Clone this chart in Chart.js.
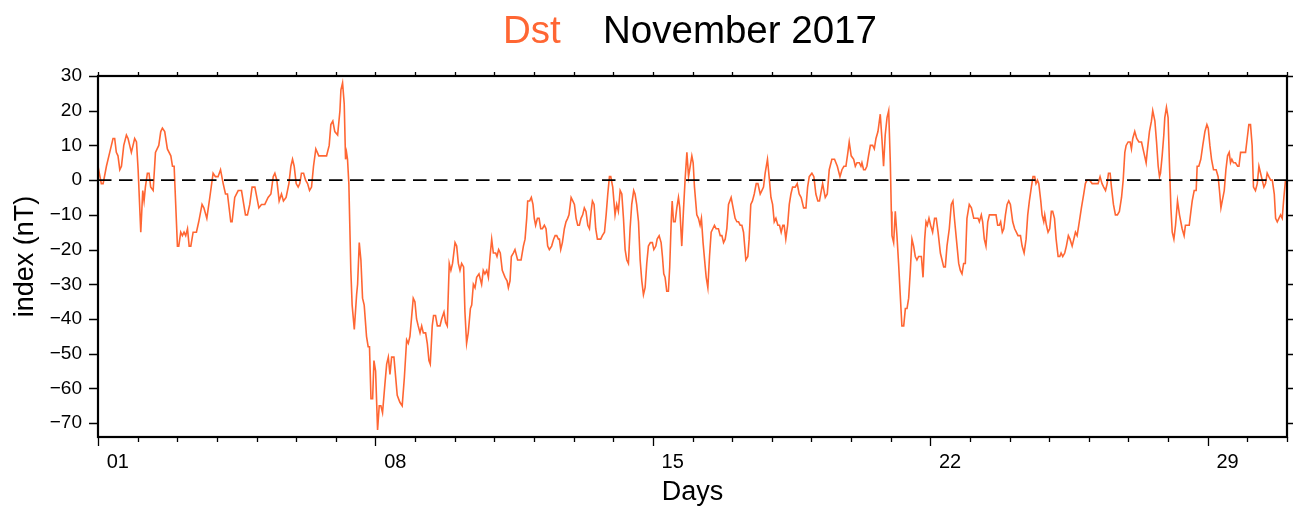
<!DOCTYPE html>
<html>
<head>
<meta charset="utf-8">
<script src="https://cdn.jsdelivr.net/npm/chart.js@4.4.1/dist/chart.umd.min.js"></script>
<style>
  html, body { margin: 0; padding: 0; background: #fff; }
  #wrap { position: relative; width: 1295px; height: 512px; }
  #c { position: absolute; left: 0; top: 0; }
  .ttl { position: absolute; top: 11px; font-family: "Liberation Sans", Arial, Helvetica, sans-serif; font-size: 38.5px; line-height: 1; white-space: nowrap; }
  #t1 { left: 503px; color: #ff6633; }
  #t2 { left: 603px; color: #000; }
</style>
</head>
<body>
<div id="wrap">
  <canvas id="c" width="1295" height="512"></canvas>
  <div class="ttl" id="t1">Dst</div>
  <div class="ttl" id="t2">November 2017</div>
</div>
<script>
// Hours since 2017-11-01 00:00 UT
const hours = [
  0, 2.0, 3.1, 5.1, 7.1, 9.1, 10.1, 11.1, 12.1, 13.2,
  14.2, 15.6, 17.2, 18.2, 20.2, 22.2, 23.3, 24.3, 25.9, 27.1,
  27.9, 28.7, 29.9, 30.9, 31.9, 33.4, 34.8, 36.8, 38.0, 39.0,
  40.4, 42.0, 44.1, 45.1, 46.1, 48.1, 48.9, 50.1, 51.1, 52.1,
  53.1, 54.2, 55.2, 56.2, 57.6, 59.6, 61.0, 63.0, 64.1, 65.9,
  67.7, 69.7, 71.1, 72.7, 74.2, 75.8, 77.2, 78.4, 80.4, 81.2,
  82.8, 84.9, 86.9, 89.3, 90.5, 91.9, 93.3, 95.0,
  97.4, 99.0, 101.0, 103.0, 104.7, 106.1, 107.1, 108.3, 109.7, 111.1,
  112.3, 113.9, 115.6, 116.8, 117.8, 118.8, 120.0, 121.2, 122.2, 123.2,
  124.5, 125.7, 126.9, 128.1, 129.3, 130.5, 131.9, 133.7, 135.8, 138.4,
  140.0, 141.0, 142.2, 143.4, 145.1, 146.5, 147.1, 148.1, 149.1, 149.9,
  150.5, 151.1, 151.9, 153.1, 153.9, 155.2, 156.6, 157.2, 158.2, 159.2,
  160.2, 161.2, 162.6, 163.6, 164.4, 165.3, 166.3, 167.1, 168.1, 169.3,
  170.3, 171.3, 172.3, 173.7, 174.8, 175.8, 176.8, 177.8, 179.2, 181.2,
  182.8, 184.2, 185.5,
  186.9, 187.9, 188.9, 190.9, 191.9, 192.9, 193.9, 195.0, 196.0, 197.0,
  198.4, 199.4, 200.4, 201.2, 202.4, 203.2, 204.4, 205.5, 207.1, 208.1,
  209.5, 210.5, 211.5, 212.7, 213.7, 214.7, 216.2, 217.2, 218.2, 219.2,
  220.2, 221.4, 222.2, 223.2, 224.2, 225.5, 226.3, 227.3, 228.3, 229.3,
  230.7, 232.3, 233.3, 234.3, 235.4, 236.4, 237.4, 238.4, 239.4, 240.8,
  241.6, 242.6, 243.6, 244.8, 246.5, 247.7, 248.5, 249.5, 250.3, 251.5,
  252.5, 254.1, 256.2, 257.6, 258.6, 259.6, 260.2, 261.4, 262.4, 263.4,
  264.2, 265.0, 266.1, 267.1, 268.1, 269.1, 270.3, 271.3, 272.3, 273.3,
  274.7, 275.9, 276.8,
  277.8, 278.8, 279.4, 280.2, 281.2, 282.4, 283.4, 284.4, 285.2, 286.5,
  287.5, 288.5, 289.5, 290.5, 291.5, 292.5, 293.5, 294.5, 295.5, 296.6,
  297.6, 298.6, 299.4, 300.4, 301.4, 302.4, 304.4, 305.4, 306.7, 307.7,
  308.7, 309.7, 310.5, 311.7, 313.1, 314.1, 315.1, 316.2, 317.2, 318.2,
  319.2, 320.2, 321.2, 322.2, 323.2, 324.4, 325.2, 326.2, 327.3, 328.3,
  329.3, 330.3, 331.3, 332.3, 333.3, 334.5, 335.7, 336.6, 337.8, 338.6,
  339.8, 341.0, 341.8, 342.6, 343.4, 344.4, 345.4, 346.2, 347.1, 347.7,
  348.5, 349.5, 350.5, 351.5, 352.3, 353.5, 354.5, 355.5, 356.6, 357.6,
  358.6, 359.6, 360.4, 361.2, 362.6, 363.6, 364.6, 365.4, 366.4, 367.7,
  368.3, 369.3, 370.3, 371.3, 372.3, 373.3, 374.3, 375.7, 376.8, 377.8,
  378.8, 379.8, 380.8, 381.8, 383.4, 384.6, 385.8, 386.9, 387.9, 388.9,
  389.9, 390.9, 392.3, 393.5, 394.3, 395.3, 396.3, 397.4, 398.6, 399.6,
  401.0, 402.0, 403.0, 404.0, 405.4, 406.4, 407.5, 408.5, 409.5, 410.5,
  411.7, 412.7, 413.7, 414.7, 415.5, 416.5, 417.6, 418.6, 419.6, 420.6,
  422.2, 423.4, 424.6, 425.8, 427.3, 428.7, 429.7, 430.7, 432.3, 433.5,
  434.7, 435.9, 436.9, 438.0, 438.8, 439.6, 440.4, 441.6, 442.8, 444.4,
  446.0, 447.7, 449.3, 450.5, 451.7, 452.9, 454.1, 454.9, 456.1, 457.6,
  458.6,
  459.6, 461.0, 462.0, 462.6, 463.6, 464.6, 465.6, 466.6, 467.7, 469.1,
  470.1, 471.1, 472.3, 473.7, 474.7, 475.7, 476.7, 477.8, 478.8, 479.8,
  480.4, 480.8, 481.8, 482.8, 483.8, 484.8, 485.8, 486.8, 487.9, 488.9,
  489.9, 490.9, 491.9, 492.9, 493.9, 494.9, 495.9, 496.9, 498.6, 499.6,
  500.6, 501.4, 502.2, 503.2, 504.2, 505.4, 506.6, 507.6, 508.7, 510.1,
  511.1, 512.1, 513.1, 514.1, 515.5, 516.7, 517.7, 518.8, 520.2, 521.2,
  522.2, 523.2, 524.2, 525.2, 526.2, 527.6, 528.9, 530.3, 531.7, 532.9,
  533.7, 534.9, 535.7, 536.7, 537.7, 538.8, 539.8, 541.4, 543.8, 544.8,
  545.8, 546.6, 547.6, 548.5, 549.5,
  550.5, 551.5, 552.5, 553.9, 555.1, 556.1, 557.1, 558.6, 559.6, 560.8,
  562.0, 563.0, 564.0, 565.2, 566.2, 567.2, 568.0, 568.9, 569.7, 570.9,
  571.7, 572.7, 573.3, 574.3, 575.3, 576.3, 577.3, 578.1, 579.2, 580.2,
  581.4, 582.4, 583.2, 584.2, 585.4, 586.4, 587.6, 588.6, 589.9, 590.9,
  591.9, 592.9, 593.9, 595.5, 596.9, 597.9, 598.9, 600.4, 602.0, 603.6,
  605.6, 606.8, 608.0, 609.0, 610.1, 611.1, 611.9, 612.9, 613.7, 614.9,
  616.1, 617.3, 618.5, 619.8, 620.8, 621.8, 622.6, 623.8, 625.0, 625.8,
  626.6, 627.8, 629.0, 630.3, 631.9, 633.3, 634.7,
  635.3, 636.7, 637.9, 638.7, 640.0, 641.0, 642.0, 642.8, 643.4, 644.4,
  645.4, 646.0, 647.0, 648.0, 648.8, 649.7, 650.5, 651.5, 652.5, 653.7,
  654.9, 656.5, 657.7, 658.5, 659.8, 660.8, 661.8, 662.6, 663.8, 665.0,
  665.6, 666.6, 667.8, 669.0, 670.3, 671.5, 672.3, 673.3, 674.3, 675.5,
  677.1, 678.3, 679.1, 680.0, 680.8, 682.0, 683.0, 684.0, 685.0, 685.8,
  686.6, 687.6, 688.8, 690.1, 690.9, 691.9, 693.3, 694.9, 695.9, 696.9,
  697.9, 698.9, 699.7, 700.9, 702.0, 703.0, 704.0, 705.0, 706.0, 707.0,
  708.0, 709.0, 710.1, 711.1, 712.3, 713.1, 714.1, 715.1, 716.1, 717.1,
  718.1, 719.1
];

// Dst index (nT)
const dst = [
  4, -1, -1, 4, 8, 12, 12, 8, 7, 3,
  4, 10, 13, 12, 8, 12, 11, 3, -15, -3,
  -6, -2, 2, 2, -2, -3, 8, 10, 14, 15,
  14, 9, 7, 4, 4, -19, -19, -15, -16, -15,
  -16, -14, -19, -19, -15, -15, -12, -7, -8, -11,
  -5, 2, 1, 1, 3, -1, -4, -4, -12, -12,
  -5, -3, -3, -10, -10, -7, -2, -2,
  -8, -7, -7, -5, -4, 1, 2, 0, -6, -4,
  -6, -5, -1, 4, 6, 4, -1, -2, -1, 2,
  2, 0, -1, -3, -2, 4, 9, 7, 7, 7,
  10, 16, 17, 14, 13, 20, 26, 28, 22, 6,
  8, 6, -1, -26, -36, -43, -33, -30, -18, -23,
  -34, -36, -45, -48, -48, -63, -63, -52, -55, -72,
  -65, -65, -67, -59, -53, -51, -56, -51, -51, -62,
  -64, -65, -57,
  -46, -47, -45, -34, -35, -40, -42, -44, -42, -44,
  -44, -47, -52, -53, -42, -39, -39, -42, -42, -40,
  -38, -41, -42, -24, -26, -24, -18, -19, -24, -26,
  -24, -25, -38, -47, -44, -37, -36, -30, -31, -28,
  -27, -30, -26, -27, -26, -28, -22, -17, -21, -21,
  -22, -20, -21, -26, -28, -29, -31, -29, -22, -21,
  -20, -23, -23, -19, -17, -11, -6, -6, -5, -7,
  -11, -13, -11, -11, -14, -14, -13, -14, -19, -20,
  -19, -17, -16,
  -16, -17, -17, -20, -18, -14, -12, -11, -10, -5,
  -6, -7, -11, -13, -13, -11, -10, -8, -9, -13,
  -14, -9, -6, -7, -14, -17, -17, -16, -15, -10,
  -4, 1, 1, -2, -10, -7, -9, -3, -4, -11,
  -20, -23, -24, -14, -7, -3, -4, -7, -12, -23,
  -29, -33, -31, -24, -19, -18, -18, -20, -19, -17,
  -16, -18, -22, -27, -28, -32, -32, -25, -12, -6,
  -12, -12, -8, -5, -8, -19, -9, 0, 8, 1,
  4, 7, 5, -2, -10, -11, -13, -11, -18, -25,
  -28, -31, -22, -15, -14, -13, -14, -14, -16, -16,
  -18, -17, -14, -7, -5, -8, -11, -12, -12, -13,
  -13, -15, -23, -22, -17, -7, -6, -4, -1, -1,
  -4, -3, -2, 2, 6, 1, -5, -7, -12, -11,
  -13, -13, -15, -13, -13, -17, -13, -7, -4, -2,
  -2, -1, -4, -5, -8, -8, -2, 1, 2, 1,
  -4, -6, -6, -3, -1, -3, -5, -4, 3, 6,
  6, 4, 1, 3, 4, 4, 8, 11, 7, 6,
  4,
  5, 5, 4, 5, 3, 3, 4, 7, 10, 10,
  9, 12, 14, 19, 12, 4, 13, 18, 20, 5,
  -9, -16, -18, -9, -16, -24, -33, -42, -42, -37,
  -37, -34, -26, -17, -19, -22, -23, -22, -22, -28,
  -17, -12, -13, -11, -13, -15, -11, -11, -15, -21,
  -23, -25, -25, -19, -14, -7, -6, -12, -19, -24,
  -26, -27, -24, -24, -11, -7, -8, -11, -11, -11,
  -12, -10, -12, -17, -19, -12, -10, -10, -10, -13,
  -13, -12, -15, -14, -10,
  -7, -6, -7, -12, -14, -15, -16, -16, -19, -21,
  -17, -10, -6, -2, 1, 1, -1, 0, -1, -6,
  -10, -12, -10, -13, -15, -14, -9, -9, -11, -17,
  -22, -22, -21, -22, -21, -19, -16, -17, -19, -17,
  -15, -16, -13, -8, -4, -1, 0, 0, -1, -1,
  -1, 1, -1, -2, -3, -1, 2, 2, -2, -7,
  -10, -10, -9, -5, 0, 8, 10, 11, 11, 9,
  12, 14, 12, 11, 11, 8, 5,
  8, 14, 17, 20, 17, 11, 4, 1, 2, 7,
  13, 18, 21, 18, 5, -8, -15, -17, -13, -6,
  -10, -14, -16, -13, -13, -13, -9, -6, -3, -3,
  4, 4, 6, 10, 14, 16, 15, 10, 6, 3,
  3, 1, -3, -8, -6, -3, 3, 7, 8, 5,
  6, 5, 5, 4, 4, 8, 8, 8, 12, 16,
  16, 10, -2, -3, -1, 4, 2, 0, -2, -1,
  2, 1, 0, 0, -4, -11, -12, -11, -10, -11,
  -5, 0
];

// Axis definitions
const xMin = 0, xMax = 720;                 // hours in November 2017
const dayLabels = ['01', '08', '15', '22', '29'];
const dayLabelHours = [12, 180, 348, 516, 684]; // labels centred on the day
const majorTickHours = [0, 168, 336, 504, 672];
const yMin = -74, yMax = 30;
const yTickValues = [-70, -60, -50, -40, -30, -20, -10, 0, 10, 20, 30];
const zeroLine = [0, 0];

const dayTickHours = [];
for (let h = xMin; h <= xMax; h += 24) dayTickHours.push(h);

const FONT = '"Liberation Sans", Arial, Helvetica, sans-serif';
const ORANGE = '#ff6633';

const framePlugin = {
  id: 'frame',
  afterDatasetsDraw(chart) {
    const { ctx, chartArea: a } = chart;
    const xs = chart.scales.x, ys = chart.scales.y;
    ctx.save();
    ctx.strokeStyle = '#000';
    ctx.lineWidth = 1.3;
    ctx.beginPath();
    for (const h of dayTickHours) {
      const px = Math.round(xs.getPixelForValue(h)) + 0.5;
      const major = majorTickHours.includes(h);
      ctx.moveTo(px, a.bottom);
      ctx.lineTo(px, a.bottom + (major ? 9 : 5));
      ctx.moveTo(px, a.top);
      ctx.lineTo(px, a.top - 4);
    }
    for (const v of yTickValues) {
      const py = Math.round(ys.getPixelForValue(v)) + 0.5;
      ctx.moveTo(a.left, py);
      ctx.lineTo(a.left - 9, py);
      ctx.moveTo(a.right, py);
      ctx.lineTo(a.right + 6, py);
    }
    ctx.stroke();
    ctx.lineWidth = 2.2;
    ctx.strokeRect(a.left, a.top, a.right - a.left, a.bottom - a.top);
    ctx.restore();
  }
};

new Chart(document.getElementById('c'), {
  type: 'line',
  data: {
    datasets: [
      {
        label: 'zero',
        data: [{ x: xMin, y: zeroLine[0] }, { x: xMax, y: zeroLine[1] }],
        borderColor: '#000',
        borderWidth: 1.8,
        borderDash: [13.5, 7.5],
        pointRadius: 0,
        fill: false,
        order: 0
      },
      {
        label: 'Dst',
        data: hours.map((h, i) => ({ x: h, y: dst[i] })),
        borderColor: ORANGE,
        borderWidth: 1.6,
        pointRadius: 0,
        tension: 0,
        fill: false,
        order: 1
      }
    ]
  },
  options: {
    responsive: false,
    animation: false,
    events: [],
    layout: { padding: { left: 0, right: 8, top: 76, bottom: 0 } },
    plugins: {
      legend: { display: false },
      tooltip: { enabled: false },
      title: { display: false }
    },
    scales: {
      x: {
        type: 'linear',
        min: xMin,
        max: xMax,
        grid: { display: false, drawTicks: false },
        border: { display: false },
        afterBuildTicks: (s) => { s.ticks = dayLabelHours.map(v => ({ value: v })); },
        afterFit: (s) => { s.height = 75; },
        ticks: {
          autoSkip: false,
          maxRotation: 0,
          padding: 13,
          color: '#000',
          font: { family: FONT, size: 20 },
          callback: (v) => { const i = dayLabelHours.indexOf(v); return i >= 0 ? dayLabels[i] : ''; }
        },
        title: {
          display: true,
          text: 'Days',
          color: '#000',
          font: { family: FONT, size: 27, lineHeight: 1 },
          padding: { top: 0, bottom: 6 }
        }
      },
      y: {
        type: 'linear',
        min: yMin,
        max: yMax,
        grid: { display: false, drawTicks: false },
        border: { display: false },
        afterBuildTicks: (s) => { s.ticks = yTickValues.map(v => ({ value: v })); },
        afterFit: (s) => { s.width = 98; },
        ticks: {
          autoSkip: false,
          padding: 16,
          color: '#000',
          font: { family: FONT, size: 19 },
          callback: (v) => v < 0 ? '\u2212' + Math.abs(v) : String(v)
        },
        title: {
          display: true,
          text: 'index (nT)',
          color: '#000',
          font: { family: FONT, size: 27, lineHeight: 1 },
          padding: { top: 12, bottom: 0 }
        }
      }
    }
  },
  plugins: [framePlugin]
});
</script>
</body>
</html>
